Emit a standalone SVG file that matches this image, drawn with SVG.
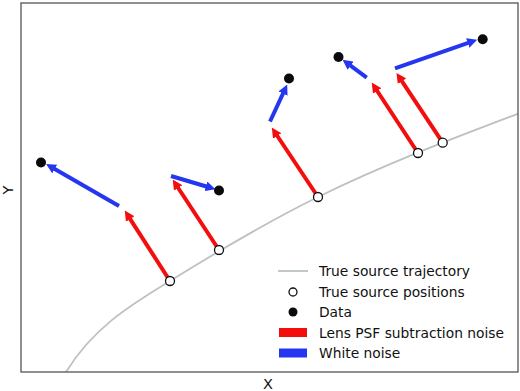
<svg xmlns="http://www.w3.org/2000/svg" width="520" height="391" viewBox="0 0 520 391">
<style>
text{font-family:"DejaVu Sans","Liberation Sans",sans-serif;fill:#111}
.leg{font-size:13.8px}
.ax{font-size:14.5px}
.red{stroke:#f40d0d;stroke-width:4;fill:none}
.blue{stroke:#2536f0;stroke-width:4;fill:none}
.pos{fill:#fff;stroke:#111;stroke-width:1.3}
.dat{fill:#0a0a0a}
</style>
<defs>
<marker id="hr" viewBox="0 0 10 10" refX="0.5" refY="5" markerWidth="10" markerHeight="10" markerUnits="userSpaceOnUse" orient="auto"><path d="M0,0 L10,5 L0,10 z" fill="#f40d0d"/></marker>
<marker id="hb" viewBox="0 0 10 10" refX="0.5" refY="5" markerWidth="10" markerHeight="10" markerUnits="userSpaceOnUse" orient="auto"><path d="M0,0 L10,5 L0,10 z" fill="#2536f0"/></marker>
<clipPath id="pa"><rect x="21" y="3" width="497" height="369"/></clipPath>
</defs>
<rect x="21" y="3" width="497" height="369" fill="#fff"/>
<g id="trajectory" clip-path="url(#pa)">
<path d="M66,372 C95,325 135,302.7 170,281 C219,250.6 269,221 318,197 C385,164.2 451,139 520,113" fill="none" stroke="#bcc2bf" stroke-width="1.8"/>
</g>
<g id="connectors">
<line class="red" x1="170" y1="281" x2="129.9" y2="218.6" marker-end="url(#hr)"/>
<line class="blue" x1="119" y1="206" x2="54.3" y2="168.8" marker-end="url(#hb)"/>
<line class="red" x1="219" y1="250" x2="177.9" y2="187.5" marker-end="url(#hr)"/>
<line class="blue" x1="171" y1="176" x2="206.4" y2="186.5" marker-end="url(#hb)"/>
<line class="red" x1="318" y1="197" x2="277" y2="135.5" marker-end="url(#hr)"/>
<line class="blue" x1="270" y1="121.5" x2="283.2" y2="93.1" marker-end="url(#hb)"/>
<line class="red" x1="418" y1="153" x2="376.9" y2="90.5" marker-end="url(#hr)"/>
<line class="blue" x1="366.7" y1="77.7" x2="350.2" y2="65.4" marker-end="url(#hb)"/>
<line class="red" x1="442.7" y1="142.7" x2="401.7" y2="80.8" marker-end="url(#hr)"/>
<line class="blue" x1="395" y1="68.3" x2="468.2" y2="42.9" marker-end="url(#hb)"/>
</g>
<g id="positions">
<circle class="pos" cx="170" cy="281" r="4.5"/>
<circle class="pos" cx="219" cy="250" r="4.5"/>
<circle class="pos" cx="318" cy="197" r="4.5"/>
<circle class="pos" cx="418" cy="153" r="4.5"/>
<circle class="pos" cx="442.7" cy="142.7" r="4.5"/>
</g>
<g id="data">
<circle class="dat" cx="41" cy="162.5" r="5"/>
<circle class="dat" cx="219" cy="190.5" r="5"/>
<circle class="dat" cx="289" cy="78.5" r="5"/>
<circle class="dat" cx="338.5" cy="57" r="5"/>
<circle class="dat" cx="482.7" cy="39.3" r="5"/>
</g>
<rect x="21" y="3" width="497" height="369" fill="none" stroke="#555" stroke-width="1.3"/>
<g id="legend">
<line x1="278" y1="271" x2="308" y2="271" stroke="#bcc2bf" stroke-width="1.8"/>
<text class="leg" x="319" y="276">True source trajectory</text>
<circle class="pos" cx="293" cy="292" r="4"/>
<text class="leg" x="319" y="297">True source positions</text>
<circle class="dat" cx="293" cy="312" r="4.5"/>
<text class="leg" x="319" y="317">Data</text>
<rect x="279" y="328" width="28" height="9" fill="#f40d0d"/>
<text class="leg" x="319" y="337.5">Lens PSF subtraction noise</text>
<rect x="279" y="348.5" width="28" height="9" fill="#2536f0"/>
<text class="leg" x="319" y="358">White noise</text>
</g>
<text class="ax" x="268" y="388.5" text-anchor="middle">X</text>
<text class="ax" transform="translate(12.5,190) rotate(-90)" text-anchor="middle">Y</text>
</svg>
